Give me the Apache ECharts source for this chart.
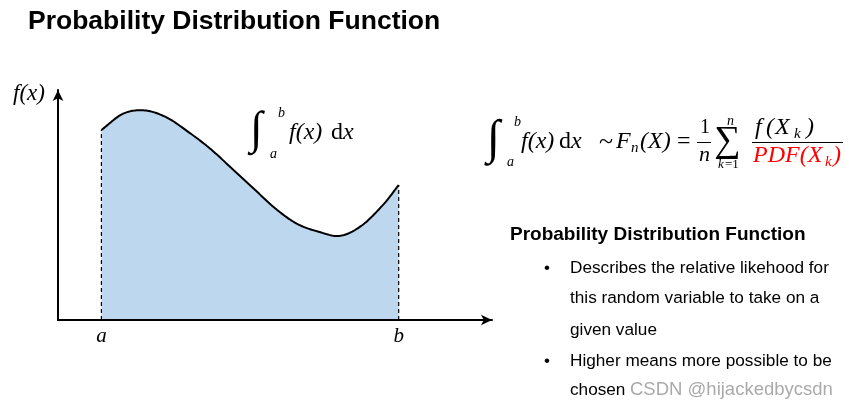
<!DOCTYPE html>
<html><head><meta charset="utf-8">
<script src="https://cdn.jsdelivr.net/npm/echarts@6.0.0/dist/echarts.min.js"></script>
<style>html,body{margin:0;padding:0;background:#fff}#c{width:849px;height:408px}</style>
</head><body><div id="c"></div>
<script>
// ---- data (x: 0..10, y: 0..10) ----
const curveX = [1.0, 1.5, 2.0, 2.5, 3.0, 3.5, 4.0, 4.5, 5.0, 5.5, 6.0, 6.5, 7.0, 7.5, 7.85];
const curveY = [8.26, 8.97, 9.11, 8.81, 8.18, 7.46, 6.6, 5.73, 4.86, 4.19, 3.84, 3.66, 4.11, 5.03, 5.87];
const boundValues = [1.0, 7.85];
const boundLabels = ['a', 'b'];
const titleText = 'Probability Distribution Function';
const headingText = 'Probability Distribution Function';
const bulletLines = [
  ['•', 'Describes the relative likehood for'],
  ['', 'this random variable to take on a'],
  ['', 'given value'],
  ['•', 'Higher means more possible to be'],
  ['', 'chosen']
];
const watermarkText = 'CSDN @hijackedbycsdn';

const curveData = curveX.map((x, i) => [x, curveY[i]]);
const fa = curveY[0], fb = curveY[curveY.length - 1];

// Catmull-Rom rendering of the curve through the (pixel) data points
function crSample(P, steps) {
  const n = P.length, out = [];
  const get = (i) => i < 0 ? [2 * P[0][0] - P[1][0], 2 * P[0][1] - P[1][1]]
    : i >= n ? [2 * P[n - 1][0] - P[n - 2][0], 2 * P[n - 1][1] - P[n - 2][1]] : P[i];
  for (let i = 0; i < n - 1; i++) {
    const p0 = get(i - 1), p1 = get(i), p2 = get(i + 1), p3 = get(i + 2);
    for (let s = 0; s < steps; s++) {
      const t = s / steps, t2 = t * t, t3 = t2 * t;
      out.push([0, 1].map(k => 0.5 * (2 * p1[k] + (-p0[k] + p2[k]) * t +
        (2 * p0[k] - 5 * p1[k] + 4 * p2[k] - p3[k]) * t2 +
        (-p0[k] + 3 * p1[k] - 3 * p2[k] + p3[k]) * t3)));
    }
  }
  out.push(P[n - 1]);
  return out;
}

const SERIF = '"Liberation Serif", "DejaVu Serif", serif';
const SANS = '"Liberation Sans", Arial, sans-serif';
function T(text, x, y, font, fill, extra) {
  return Object.assign({ type: 'text', x: x, y: y, silent: true,
    style: { text: text, font: font, fill: fill || '#000', align: 'left', verticalAlign: 'middle' } }, extra || {});
}
function L(x1, y1, x2, y2, w) {
  return { type: 'line', silent: true, shape: { x1: x1, y1: y1, x2: x2, y2: y2 }, style: { stroke: '#000', lineWidth: w || 1 } };
}
const it = (s) => 'italic ' + s + 'px ' + SERIF;
const up = (s) => s + 'px ' + SERIF;

const graphics = [
  T(titleText, 28, 22, 'bold 26.5px ' + SANS),
  // y-axis name
  T('f(x)', 13, 94, it(23)),
  // integral on the chart
  T('∫', 250, 131, it(46)),
  T('b', 278, 113, it(14)),
  T('a', 270, 154, it(14)),
  T('f(x)', 289, 133, it(24)),
  T('d', 331, 133, up(24)),
  T('x', 343, 133, it(24)),
  // Monte Carlo estimator
  T('∫', 487, 140, it(48)),
  T('b', 514, 122, it(14)),
  T('a', 507, 162, it(14)),
  T('f(x)', 521, 142, it(24)),
  T('d', 559, 142, up(24)),
  T('x', 571, 142, it(24)),
  T('~', 599, 142, up(26)),
  T('F', 616, 142, it(24)),
  T('n', 631, 148, it(15)),
  T('(X)', 640, 142, it(24)),
  T('=', 677, 142, up(24)),
  T('1', 700, 128, up(20)),
  L(697, 142.5, 711, 142.5, 1),
  T('n', 699, 155, it(22)),
  T('∑', 714, 141, up(37)),
  T('n', 727, 121, it(14)),
  T('k', 718, 165, it(13)),
  T('=1', 725, 165, up(13)),
  T('f', 755, 128, it(24)),
  T('(', 766, 128, it(24)),
  T('X', 775, 128, it(24)),
  T('k', 794, 134, it(15)),
  T(')', 806, 128, it(24)),
  L(752, 142.5, 843, 142.5, 1),
  T('PDF(X', 753, 156, it(24), '#ff0000'),
  T('k', 825, 162, it(15), '#ff0000'),
  T(')', 833, 156, it(24), '#ff0000'),
  // right text block
  T(headingText, 510, 235, 'bold 19px ' + SANS)
];
const lineY = [268, 298, 330, 361, 390];
bulletLines.forEach((l, i) => {
  if (l[0]) graphics.push(T(l[0], 544, lineY[i], '17px ' + SANS));
  graphics.push(T(l[1], 570, lineY[i], '17.2px ' + SANS));
});
graphics.push(T(watermarkText, 630, 390, '18.5px ' + SANS, '#aaaaaa'));

const axisCommon = {
  type: 'value', min: 0, max: 10, z: 5,
  axisLine: { show: true, onZero: false, symbol: ['none', 'arrow'], symbolSize: [8, 11],
    lineStyle: { color: '#000', width: 2 } },
  axisTick: { show: false },
  splitLine: { show: false }
};

const chart = echarts.init(document.getElementById('c'), null, { renderer: 'canvas' });
chart.setOption({
  animation: false,
  backgroundColor: '#fff',
  grid: { left: 58, top: 90, width: 434, height: 230 },
  xAxis: Object.assign({}, axisCommon, {
    axisLabel: {
      customValues: boundValues,
      formatter: (v) => boundLabels[boundValues.indexOf(v)] || '',
      fontFamily: 'Liberation Serif', fontStyle: 'italic', fontSize: 21, color: '#000', margin: 6
    }
  }),
  yAxis: Object.assign({}, axisCommon, { axisLabel: { show: false } }),
  series: [
    {
      type: 'custom', data: curveData, z: 3, clip: false,
      encode: { x: 0, y: 1 },
      renderItem: (params, api) => {
        if (params.dataIndex !== 0) return null;
        const pts = curveData.map(d => api.coord(d));
        const curve = crSample(pts, 16);
        const base = api.coord([curveX[0], 0])[1];
        const poly = curve.concat([[pts[pts.length - 1][0], base], [pts[0][0], base]]);
        return { type: 'group', children: [
          { type: 'polygon', shape: { points: poly }, style: { fill: '#bdd7ee', stroke: null } },
          { type: 'polyline', shape: { points: curve }, style: { stroke: '#000', lineWidth: 2, fill: null, lineJoin: 'round' } }
        ] };
      }
    },
    {
      type: 'line', data: [[boundValues[0], 0], [boundValues[0], fa]], symbol: 'none', z: 4,
      lineStyle: { color: '#000', width: 1.2, type: [4, 3] }
    },
    {
      type: 'line', data: [[boundValues[1], 0], [boundValues[1], fb]], symbol: 'none', z: 4,
      lineStyle: { color: '#000', width: 1.2, type: [4, 3] }
    }
  ],
  graphic: graphics
});
</script></body></html>
